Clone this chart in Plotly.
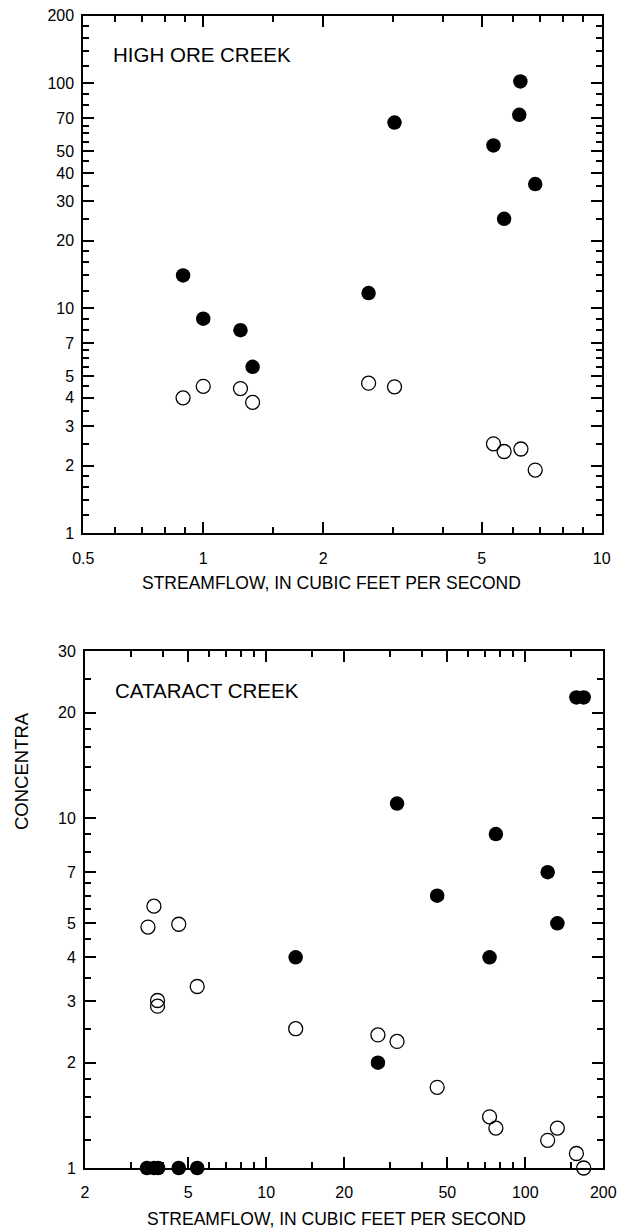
import plotly.graph_objects as go
import math

W, H = 619, 1230

# ---------------- data ----------------
high_ore_x_filled = [0.89, 1.0, 1.24, 1.33, 2.6, 3.02, 5.35, 5.69, 6.25, 6.21, 6.81]
high_ore_y_filled = [14.0, 9.0, 8.0, 5.5, 11.7, 67.0, 53.0, 25.0, 102.0, 72.5, 35.7]
high_ore_x_open = [0.89, 1.0, 1.24, 1.33, 2.6, 3.02, 5.35, 5.69, 6.27, 6.81]
high_ore_y_open = [4.0, 4.5, 4.4, 3.82, 4.65, 4.48, 2.5, 2.31, 2.37, 1.91]

cataract_x_filled = [3.47, 3.7, 3.83, 4.6, 5.42, 13.0, 27.0, 32.0, 45.7, 72.8, 77.0, 122.0, 133.0, 157.5, 168.0]
cataract_y_filled = [1.0, 1.0, 1.0, 1.0, 1.0, 4.0, 2.0, 11.0, 6.0, 4.0, 9.0, 7.0, 5.0, 22.1, 22.1]
cataract_x_open = [3.5, 3.69, 3.81, 3.81, 4.6, 5.42, 13.0, 27.0, 32.0, 45.7, 72.8, 77.0, 122.0, 133.0, 157.5, 168.0]
cataract_y_open = [4.88, 5.6, 3.01, 2.9, 4.97, 3.3, 2.5, 2.4, 2.3, 1.7, 1.4, 1.3, 1.2, 1.3, 1.1, 1.0]

top_x_ticks = [0.5, 1, 2, 5, 10]
top_x_ticktext = ["0.5", "1", "2", "5", "10"]
top_x_minor = [0.6, 0.7, 0.8, 0.9, 1.5, 3, 4, 6, 7, 8, 9]
top_y_ticks = [1, 2, 3, 4, 5, 7, 10, 20, 30, 40, 50, 70, 100, 200]
top_y_ticktext = ["1", "2", "3", "4", "5", "7", "10", "20", "30", "40", "50", "70", "100", "200"]
top_y_minor = [1.2, 1.4, 1.6, 1.8, 2.5, 3.5, 4.5, 5.5, 6, 6.5, 8, 9,
               12, 14, 16, 18, 25, 35, 45, 55, 60, 65, 80, 90,
               120, 140, 160, 180]

bot_x_ticks = [2, 5, 10, 20, 50, 100, 200]
bot_x_ticktext = ["2", "5", "10", "20", "50", "100", "200"]
bot_x_minor = [3, 4, 6, 7, 8, 9, 15, 30, 40, 60, 70, 80, 90, 150]
bot_y_ticks = [1, 2, 3, 4, 5, 7, 10, 20, 30]
bot_y_ticktext = ["1", "2", "3", "4", "5", "7", "10", "20", "30"]
bot_y_minor = [1.2, 1.4, 1.6, 1.8, 2.5, 3.5, 4.5, 5.5, 6, 6.5, 8, 9,
               12, 14, 16, 18, 25]

top_x_range = [0.5, 10]
top_y_range = [1, 200]
bot_x_range = [2, 200]
bot_y_range = [1, 30]

x_title = "STREAMFLOW, IN CUBIC FEET PER SECOND"
y_title = "CONCENTRA"
top_label = "HIGH ORE CREEK"
bot_label = "CATARACT CREEK"

FONT = "Liberation Sans, Arial, Helvetica, sans-serif"
PAD = 12  # px of extra room so edge markers are not clipped


def lg(vals):
    # logarithmic scale: the axes below are in decades (log10 of the value)
    return [math.log10(v) for v in vals]


def px(x):
    return x / W


def py(y):
    return 1 - y / H


def axis_style(tickvals, ticktext, minor_vals, rng, domain, anchor, standoff):
    return dict(
        type="linear",
        range=lg(rng),
        domain=domain,
        anchor=anchor,
        tickmode="array",
        tickvals=lg(tickvals),
        ticktext=ticktext,
        ticks="inside",
        ticklen=11,
        tickwidth=2,
        tickcolor="black",
        minor=dict(tickmode="array", tickvals=lg(minor_vals), ticks="inside",
                   ticklen=6, tickwidth=2, tickcolor="black"),
        showline=True,
        linecolor="black",
        linewidth=2,
        mirror="ticks",
        showgrid=False,
        zeroline=False,
        automargin=False,
        ticklabelstandoff=standoff,
    )


def data_axis(rng, pix, anchor, is_x):
    # invisible axis with the same scale as the framed axis, but a slightly
    # larger area, so markers sitting on the frame are drawn whole
    lo, hi = lg(rng)
    a, b = pix
    k = (hi - lo) / (b - a)
    if is_x:
        dom = [px(a - PAD), px(b + PAD)]
    else:
        dom = [py(b + PAD), py(a - PAD)]
    return dict(type="linear", range=[lo - PAD * k, hi + PAD * k], domain=dom,
                anchor=anchor, visible=False, showgrid=False, zeroline=False,
                automargin=False)


top_xpix = [83.3, 601.7]
top_ypix = [15.7, 533.3]
bot_xpix = [85.0, 603.3]
bot_ypix = [651.0, 1168.0]

top_xdom = [px(top_xpix[0]), px(top_xpix[1])]
top_ydom = [py(top_ypix[1]), py(top_ypix[0])]
bot_xdom = [px(bot_xpix[0]), px(bot_xpix[1])]
bot_ydom = [py(bot_ypix[1]), py(bot_ypix[0])]

fig = go.Figure()

filled_marker = dict(symbol="circle", size=14.5, color="black", line=dict(width=0))
open_marker = dict(symbol="circle-open", size=14, color="black", line=dict(width=1.3, color="black"))

# empty traces keep the framed subplots
fig.add_trace(go.Scatter(x=[], y=[], xaxis="x", yaxis="y", hoverinfo="skip"))
fig.add_trace(go.Scatter(x=[], y=[], xaxis="x2", yaxis="y2", hoverinfo="skip"))

fig.add_trace(go.Scatter(x=lg(high_ore_x_open), y=lg(high_ore_y_open), mode="markers",
                         marker=open_marker, xaxis="x3", yaxis="y3"))
fig.add_trace(go.Scatter(x=lg(high_ore_x_filled), y=lg(high_ore_y_filled), mode="markers",
                         marker=filled_marker, xaxis="x3", yaxis="y3"))
fig.add_trace(go.Scatter(x=lg(cataract_x_open), y=lg(cataract_y_open), mode="markers",
                         marker=open_marker, xaxis="x4", yaxis="y4"))
fig.add_trace(go.Scatter(x=lg(cataract_x_filled), y=lg(cataract_y_filled), mode="markers",
                         marker=filled_marker, xaxis="x4", yaxis="y4"))

fig.update_layout(
    width=W, height=H,
    margin=dict(l=0, r=0, t=0, b=0),
    paper_bgcolor="white",
    plot_bgcolor="rgba(0,0,0,0)",
    showlegend=False,
    font=dict(family=FONT, size=16, color="black"),
    xaxis=axis_style(top_x_ticks, top_x_ticktext, top_x_minor, top_x_range, top_xdom, "y", 9),
    yaxis=axis_style(top_y_ticks, top_y_ticktext, top_y_minor, top_y_range, top_ydom, "x", 4),
    xaxis2=axis_style(bot_x_ticks, bot_x_ticktext, bot_x_minor, bot_x_range, bot_xdom, "y2", 9),
    yaxis2=axis_style(bot_y_ticks, bot_y_ticktext, bot_y_minor, bot_y_range, bot_ydom, "x2", 4),
    xaxis3=data_axis(top_x_range, top_xpix, "y3", True),
    yaxis3=data_axis(top_y_range, top_ypix, "x3", False),
    xaxis4=data_axis(bot_x_range, bot_xpix, "y4", True),
    yaxis4=data_axis(bot_y_range, bot_ypix, "x4", False),
)

ann_font_big = dict(family=FONT, size=20.5, color="black")
ann_font_title = dict(family=FONT, size=17.5, color="black")

fig.add_annotation(text=top_label, x=px(111), y=py(54), xref="paper", yref="paper",
                   xanchor="left", yanchor="middle", showarrow=False, font=ann_font_big)
fig.add_annotation(text=bot_label, x=px(112.5), y=py(690.5), xref="paper", yref="paper",
                   xanchor="left", yanchor="middle", showarrow=False, font=ann_font_big)
fig.add_annotation(text=x_title, x=px(331), y=py(583), xref="paper", yref="paper",
                   xanchor="center", yanchor="middle", showarrow=False, font=ann_font_title)
fig.add_annotation(text=x_title, x=px(336), y=py(1219), xref="paper", yref="paper",
                   xanchor="center", yanchor="middle", showarrow=False, font=ann_font_title)
fig.add_annotation(text=y_title, x=px(21), y=py(832), xref="paper", yref="paper",
                   xanchor="center", yanchor="bottom", textangle=-90, showarrow=False,
                   font=dict(family=FONT, size=18.5, color="black"))

fig.write_html("out.html")
